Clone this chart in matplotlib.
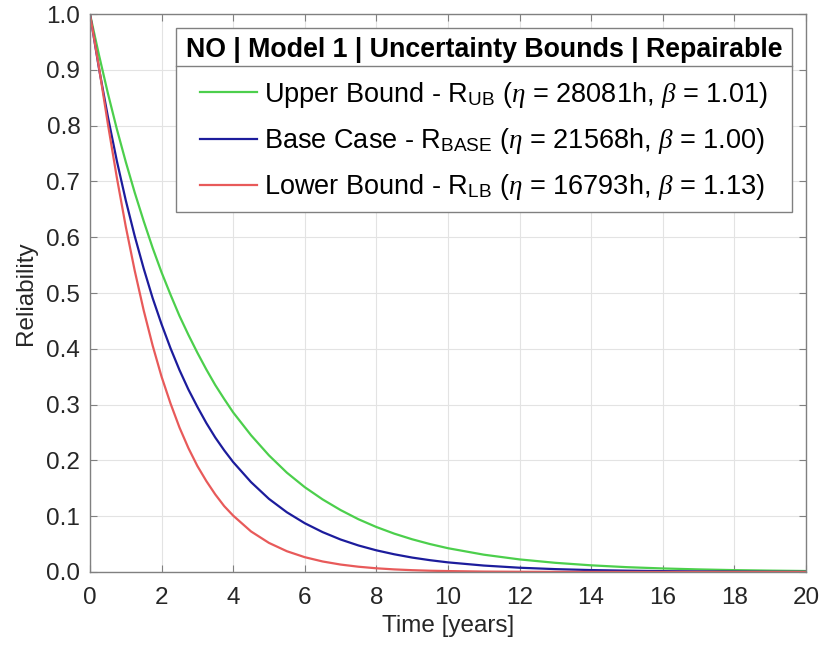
import numpy as np
import matplotlib.pyplot as plt
from matplotlib.lines import Line2D

plt.rcParams['font.family'] = ['Liberation Sans', 'DejaVu Sans']
plt.rcParams['mathtext.fontset'] = 'custom'
plt.rcParams['mathtext.rm'] = 'Liberation Sans'
plt.rcParams['mathtext.it'] = 'Liberation Serif:italic'

# Time in years and reliability
t_years = [0, 0.25, 0.5, 0.75, 1, 1.25, 1.5, 1.75, 2, 2.25, 2.5, 2.75, 3, 3.25, 3.5, 3.75, 4,
           4.5, 5, 5.5, 6, 6.5, 7, 7.5, 8, 8.5, 9, 9.5, 10, 11, 12, 13, 14, 15, 16, 17, 18, 19, 20]
R_ub = [1.0, 0.927, 0.858, 0.794, 0.735, 0.680, 0.629, 0.581, 0.537, 0.497, 0.459, 0.425, 0.393,
        0.363, 0.335, 0.310, 0.286, 0.245, 0.209, 0.178, 0.152, 0.130, 0.111, 0.0945, 0.0806,
        0.0687, 0.0586, 0.0500, 0.0426, 0.0310, 0.0225, 0.0164, 0.0119, 0.0086, 0.0063, 0.0046,
        0.0033, 0.0024, 0.0017]
R_base = [1.0, 0.903, 0.816, 0.737, 0.666, 0.602, 0.544, 0.491, 0.444, 0.401, 0.362, 0.327, 0.296,
          0.267, 0.241, 0.218, 0.197, 0.161, 0.131, 0.107, 0.0874, 0.0714, 0.0582, 0.0475, 0.0388,
          0.0317, 0.0258, 0.0211, 0.0172, 0.0115, 0.0076, 0.0051, 0.0034, 0.0023, 0.0015, 0.0010,
          0.0007, 0.0004, 0.0003]
R_lb = [1.0, 0.905, 0.803, 0.707, 0.619, 0.540, 0.469, 0.406, 0.350, 0.302, 0.259, 0.222, 0.190,
        0.163, 0.139, 0.118, 0.101, 0.0726, 0.0521, 0.0372, 0.0265, 0.0188, 0.0133, 0.0094, 0.0066,
        0.0046, 0.0032, 0.0022, 0.0016, 0.0007, 0.00035, 0.00017, 0.00008, 0.00004, 0.00002,
        0.00001, 0.0, 0.0, 0.0]

labels = [r'Upper Bound - R$_{\mathrm{UB}}$ ($\eta$ = 28081h, $\beta$ = 1.01)',
          r'Base Case - R$_{\mathrm{BASE}}$ ($\eta$ = 21568h, $\beta$ = 1.00)',
          r'Lower Bound - R$_{\mathrm{LB}}$ ($\eta$ = 16793h, $\beta$ = 1.13)']
colors = ['#4ccf4c', '#1c1c9c', '#e85a5a']

fig = plt.figure(figsize=(8.21, 6.51), dpi=100)
ax = fig.add_axes([0.1096, 0.1214, 0.872, 0.857])

for R, lab, c in zip([R_ub, R_base, R_lb], labels, colors):
    ax.plot(t_years, R, color=c, linewidth=1.6, label=lab)

ax.set_xlim(0, 20)
ax.set_ylim(0, 1)
ax.set_xticks(np.arange(0, 21, 2))
ax.set_yticks(np.arange(0, 1.01, 0.1))
ax.set_yticklabels(['%.1f' % v for v in np.arange(0, 1.01, 0.1)])
ax.grid(True, color='#e3e3e3', linewidth=0.8)
ax.set_axisbelow(True)
ax.tick_params(direction='in', top=True, right=True, labelsize=17.5, labelcolor='#262626',
               color='#808080', length=5, width=0.8)
ax.tick_params(axis='x', pad=11)
ax.tick_params(axis='y', pad=7)
for s in ax.spines.values():
    s.set_color('#808080')
    s.set_linewidth(1.0)
ax.set_xlabel('Time [years]', fontsize=17.5, color='#262626', labelpad=4)
ax.set_ylabel('Reliability', fontsize=17.5, color='#262626', labelpad=7)

leg = ax.legend(loc='upper right', bbox_to_anchor=(0.98, 0.975), fontsize=19.5,
                title='NO | Model 1 | Uncertainty Bounds | Repairable',
                title_fontproperties={'weight': 'bold', 'size': 19.3},
                fancybox=False, framealpha=1, edgecolor='#808080',
                handlelength=2.1, handletextpad=0.25, labelspacing=0.6,
                borderpad=0.35, borderaxespad=0)
leg.get_frame().set_linewidth(1.0)

# separator line under the legend title
fig.canvas.draw()
lb = leg.get_window_extent()
tb = leg.get_title().get_window_extent()
y_sep = tb.y0 - 3
fig.add_artist(Line2D([lb.x0 / fig.bbox.width, lb.x1 / fig.bbox.width],
                      [y_sep / fig.bbox.height, y_sep / fig.bbox.height],
                      color='#808080', linewidth=1.0, zorder=10))

fig.savefig('out.png', dpi=100)
